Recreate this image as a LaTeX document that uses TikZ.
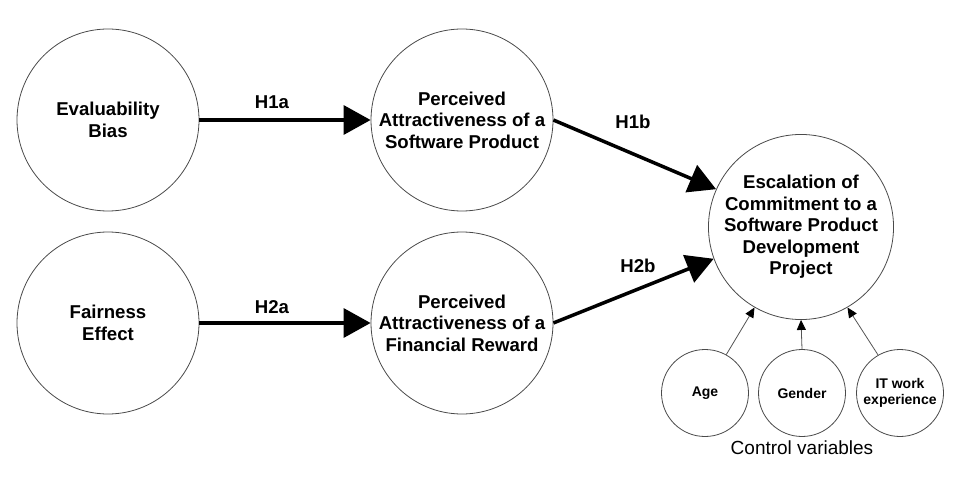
\documentclass[tikz,border=0pt]{standalone}
\usepackage{fontspec}
\setmainfont{Liberation Sans}
\usetikzlibrary{arrows.meta}
\definecolor{RingGray}{HTML}{4A4A4A}
\definecolor{LinkGray}{HTML}{555555}

\begin{document}
\begin{tikzpicture}[x=1pt, y=-1pt,
  construct/.style={circle, draw=RingGray, line width=0.8pt, minimum size=182pt,
              inner sep=0pt, align=center,
              font=\bfseries\fontsize{18.6}{21.5}\selectfont},
  control/.style={circle, draw=RingGray, line width=0.8pt, minimum size=87pt,
              inner sep=0pt, align=center,
              font=\bfseries\fontsize{14}{16}\selectfont},
  hyp/.style={line width=3.5pt, -{Triangle[length=27pt,width=29pt]}},
  ctl/.style={draw=LinkGray, line width=0.8pt, -{Triangle[length=10pt,width=9pt,black]}},
  hlabel/.style={font=\bfseries\fontsize{18.6}{21.5}\selectfont}]
  \useasboundingbox (0,0) rectangle (971,494);
  % constructs
  \node[construct] (evalbias) at (108,120) {Evaluability\\ Bias};
  \node[construct] (fairness) at (108,323) {Fairness\\ Effect};
  \node[construct] (swattr) at (462,120) {Perceived\\ Attractiveness of a\\ Software Product};
  \node[construct] (finattr) at (462,323) {Perceived\\ Attractiveness of a\\ Financial Reward};
  \node[construct] (esc) at (801,227) {Escalation of\\ Commitment to a\\ Software Product\\ Development\\ Project};
  % control variables
  \node[control] (age) at (705,393) {Age};
  \node[control] (gender) at (802,393) {Gender};
  \node[control] (itexp) at (900,393) {IT work\\ experience};
  \node[font=\fontsize{19}{22}\selectfont] (ctlcap) at (802,448) {Control variables};
  % hypotheses
  \draw[hyp] (evalbias) -- (swattr);
  \draw[hyp] (fairness) -- (finattr);
  \draw[hyp] (swattr.east) -- (esc.156);
  \draw[hyp] (finattr.east) -- (esc.200);
  \node[hlabel] (h1a) at (272,102) {H1a};
  \node[hlabel] (h2a) at (272,307) {H2a};
  \node[hlabel] (h1b) at (633,122) {H1b};
  \node[hlabel] (h2b) at (638,266) {H2b};
  \draw[ctl] (age.61) -- (esc.240);
  \draw[ctl] (gender.north) -- (esc.south);
  \draw[ctl] (itexp.120) -- (esc.300);
\end{tikzpicture}
\end{document}
